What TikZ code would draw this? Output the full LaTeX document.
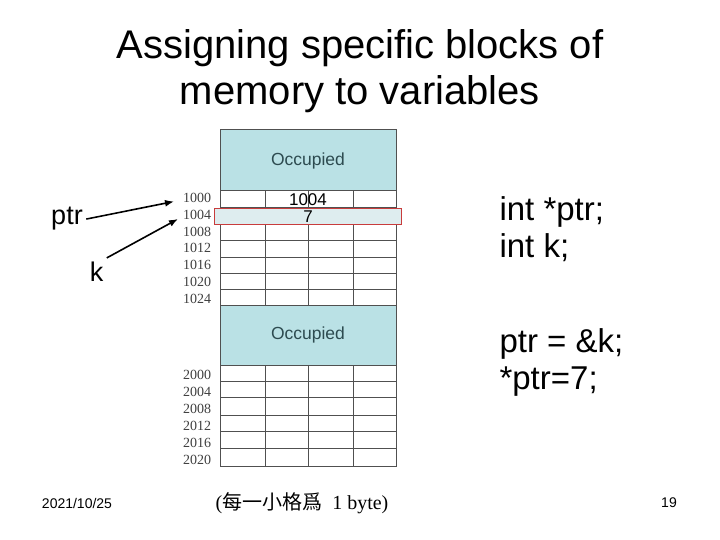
\documentclass[tikz,border=0pt]{standalone}
\usepackage{fontspec}
\setmainfont{Liberation Sans}
\newfontfamily\addrfont{Liberation Serif}
\newfontfamily\cjkfont{Noto Sans CJK TC}
\usetikzlibrary{arrows.meta,positioning}
\definecolor{occfill}{RGB}{186,225,229}
\definecolor{occtext}{RGB}{45,75,80}
\definecolor{gridcol}{RGB}{80,80,80}
\definecolor{markred}{RGB}{200,60,60}
\definecolor{markfill}{RGB}{222,237,239}

\begin{document}
\begin{tikzpicture}[x=1pt,y=-1pt,>={Latex[length=9pt,width=7pt]}]
  \useasboundingbox (0,0) rectangle (720,540);
  \node[anchor=base,font=\fontsize{40}{46}\selectfont] (title1) at (360,59) {Assigning specific blocks of};
  \node[anchor=base,font=\fontsize{40}{46}\selectfont] (title2) at (360,105) {memory to variables};

  \draw[gridcol,line width=1pt,fill=occfill] (220,130) rectangle (396,191);
  \node[occtext,font=\fontsize{17.5}{17.5}\selectfont] (occ1) at (308,161) {Occupied};
  \foreach \y in {207.3,224,240.5,257,273.3,289.5}
    \draw[gridcol,line width=0.8pt] (220,\y) -- (396,\y);
  \foreach \x in {265,308,353}
    \draw[gridcol,line width=0.8pt] (\x,191) -- (\x,305);
  \draw[gridcol,line width=1pt] (220,191) -- (220,305) (396,191) -- (396,305);

  \draw[gridcol,line width=1pt,fill=occfill] (220,305) rectangle (396,365);
  \node[occtext,font=\fontsize{17.5}{17.5}\selectfont] (occ2) at (308,335) {Occupied};
  \foreach \y in {381.7,397.7,415,431,448.3}
    \draw[gridcol,line width=0.8pt] (220,\y) -- (396,\y);
  \foreach \x in {265,308,353}
    \draw[gridcol,line width=0.8pt] (\x,365) -- (\x,466);
  \draw[gridcol,line width=1pt] (220,365) -- (220,466) -- (396,466) -- (396,365);

  \foreach \a [count=\i from 0] in {1000,1004,1008,1012,1016,1020,1024}
    \node[gridcol!80!black,font=\addrfont\fontsize{14}{14}\selectfont,inner sep=0pt] (a\a) at (197,198.3+16.7*\i) {\a};
  \foreach \a [count=\i from 0] in {2000,2004,2008,2012,2016,2020}
    \node[gridcol!80!black,font=\addrfont\fontsize{14}{14}\selectfont,inner sep=0pt] (a\a) at (197,375+16.9*\i) {\a};

  \node[draw=markred,fill=markfill,line width=0.8pt,minimum width=187pt,minimum height=15.7pt,inner sep=0pt,
        font=\fontsize{17}{17}\selectfont] (kcell) at (308,216.2) {7};
  \node[font=\fontsize{17}{17}\selectfont,inner sep=0pt] (ptrcell) at (308,199.5) {1004};

  \node[anchor=base,font=\fontsize{27}{27}\selectfont] (ptr) at (67,225) {ptr};
  \node[anchor=base,font=\fontsize{27}{27}\selectfont] (k) at (96.5,281) {k};
  \coordinate (ptrend) at (174,201.5);
  \coordinate (kend) at (178,219);
  \draw[->,line width=1.6pt] (ptr.east) -- (ptrend);
  \draw[->,line width=1.6pt] (k.north east) -- (kend);

  \node[anchor=base west,font=\fontsize{33}{33}\selectfont] (decl1) at (496,221) {int *ptr;};
  \node[anchor=base west,font=\fontsize{33}{33}\selectfont] (decl2) at (496,257.5) {int k;};
  \node[anchor=base west,font=\fontsize{33}{33}\selectfont] (stmt1) at (496,352.5) {ptr = \&k;};
  \node[anchor=base west,font=\fontsize{33}{33}\selectfont] (stmt2) at (496,389) {*ptr=7;};

  \node[font=\fontsize{14}{14}\selectfont] (date) at (77,503) {2021/10/25};
  \node[font=\fontsize{14}{14}\selectfont] (page) at (669,503) {19};
  \node[font=\addrfont\fontsize{20}{20}\selectfont] (note) at (302,503) {({\cjkfont 每一小格爲}\ \ 1 byte)};
\end{tikzpicture}
\end{document}
